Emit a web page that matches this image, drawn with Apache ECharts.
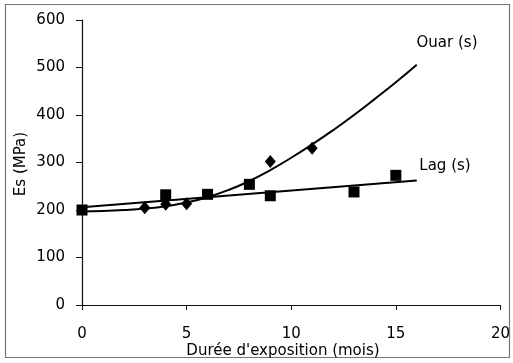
<!DOCTYPE html>
<html>
<head>
<meta charset="utf-8">
<script src="https://cdn.jsdelivr.net/npm/echarts@6/dist/echarts.min.js"></script>
<style>html,body{margin:0;padding:0;background:#fff;}#c{width:513px;height:363px;}</style>
</head>
<body>
<div id="c"></div>
<script>
// Measured data
const ouarPoints = [[3, 205], [4, 212], [5, 213], [9, 302], [11, 330]];
const lagPoints = [[0, 200], [4, 232], [6, 233], [8, 254], [9, 230], [13, 238], [15, 273]];
// Trend lines
const ouarTrend = [[0, 197], [1, 198], [2, 200], [3, 203], [4, 208], [5, 216], [6, 227], [7, 242], [8, 261],
  [9, 284], [10, 310], [11, 338], [12, 368], [13, 400], [14, 434], [15, 469], [16, 506]];
const lagTrend = [[0, 206], [16, 262]];
const xTicks = [0, 5, 10, 15, 20];
const yTicks = [0, 100, 200, 300, 400, 500, 600];

const FONT = '"DejaVu Sans", "Liberation Sans", Arial, sans-serif';
const chart = echarts.init(document.getElementById('c'), null, {renderer: 'canvas'});
chart.setOption({
  animation: false,
  backgroundColor: '#fff',
  grid: {left: 82, right: 10, top: 20, bottom: 58, containLabel: false},
  xAxis: {
    type: 'value', min: xTicks[0], max: xTicks[xTicks.length - 1], interval: 5,
    axisLine: {lineStyle: {color: '#111', width: 1.2}},
    axisTick: {show: true, length: 5, lineStyle: {color: '#111'}},
    axisLabel: {color: '#000', fontSize: 15, fontFamily: FONT, margin: 22},
    splitLine: {show: false}
  },
  yAxis: {
    type: 'value', min: yTicks[0], max: yTicks[yTicks.length - 1], interval: 100,
    axisLine: {show: true, lineStyle: {color: '#111', width: 1.2}},
    axisTick: {show: true, length: 6, lineStyle: {color: '#111'}},
    axisLabel: {color: '#000', fontSize: 15, fontFamily: FONT, margin: 17},
    splitLine: {show: false}
  },
  series: [
    {type: 'line', data: ouarTrend, smooth: true, showSymbol: false, symbol: 'none',
     lineStyle: {color: '#000', width: 2}, z: 2},
    {type: 'line', data: lagTrend, showSymbol: false, symbol: 'none',
     lineStyle: {color: '#000', width: 2}, z: 2},
    {type: 'scatter', name: 'Ouar (s)', data: ouarPoints, symbol: 'diamond', symbolSize: [11, 13],
     itemStyle: {color: '#000', opacity: 1}, z: 3},
    {type: 'scatter', name: 'Lag (s)', data: lagPoints, symbol: 'rect', symbolSize: 11,
     itemStyle: {color: '#000', opacity: 1}, z: 3}
  ],
  graphic: [
    {type: 'rect', shape: {x: 5.5, y: 4.5, width: 504, height: 353},
     style: {fill: null, stroke: '#777', lineWidth: 1.2}, silent: true},
    {type: 'text', x: 447, y: 43, style: {text: 'Ouar (s)', fill: '#000', font: '15px ' + FONT, align: 'center', verticalAlign: 'middle'}},
    {type: 'text', x: 445, y: 166, style: {text: 'Lag (s)', fill: '#000', font: '15px ' + FONT, align: 'center', verticalAlign: 'middle'}},
    {type: 'text', x: 283, y: 351, style: {text: "Durée d'exposition (mois)", fill: '#000', font: '15px ' + FONT, align: 'center', verticalAlign: 'middle'}},
    {type: 'text', x: 21, y: 164, rotation: Math.PI / 2, style: {text: 'Es (MPa)', fill: '#000', font: '15px ' + FONT, align: 'center', verticalAlign: 'middle'}}
  ]
});
</script>
</body>
</html>
